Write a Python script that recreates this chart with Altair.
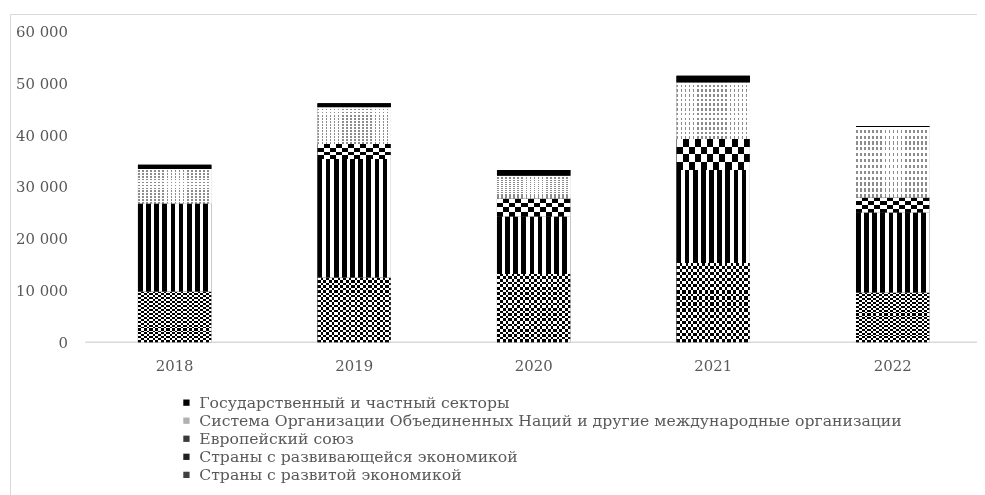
import altair as alt
import pandas as pd

years = ["2018", "2019", "2020", "2021", "2022"]
series = [
    "Страны с развитой экономикой",
    "Страны с развивающейся экономикой",
    "Европейский союз",
    "Система Организации Объединенных Наций  и другие международные организации",
    "Государственный и частный секторы",
]
developed = [9800, 12500, 13200, 15300, 9600]
developing = [17000, 22900, 11100, 18000, 15500]
eu = [0, 2900, 3500, 6000, 2900]
un = [6700, 7100, 4400, 10900, 13600]
state = [800, 800, 1100, 1300, 200]
y_ticks = [0, 10000, 20000, 30000, 40000, 50000, 60000]

values = [developed, developing, eu, un, state]
rows = []
for k, (s, vals) in enumerate(zip(series, values)):
    for y, v in zip(years, vals):
        rows.append({"year": y, "series": s, "value": v, "order": k})
df = pd.DataFrame(rows)


def stripes(n, on, off, frac, vertical=False):
    stops = []
    for i in range(n):
        a = i / n
        b = (i + frac) / n
        c = (i + 1) / n
        stops += [
            {"offset": round(a, 5), "color": on},
            {"offset": round(b, 5), "color": on},
            {"offset": round(b, 5), "color": off},
            {"offset": round(c, 5), "color": off},
        ]
    g = {"gradient": "linear", "x1": 0, "y1": 0, "x2": 1, "y2": 0, "stops": stops}
    if vertical:
        g.update({"x1": 0, "y1": 0, "x2": 0, "y2": 1})
    return g


TEXT = "#595959"
FONT = "DejaVu Serif"

base = alt.Chart(df).transform_stack(
    stack="value", groupby=["year"], sort=[alt.SortField("order", "ascending")], as_=["y0", "y1"]
)

X = alt.X(
    "year:N",
    sort=years,
    scale=alt.Scale(paddingInner=0.591, paddingOuter=0.279, align=0.525),
    axis=alt.Axis(title=None, domain=False, ticks=False, labelPadding=16, labelAngle=0,
                  labelFontSize=15, labelColor=TEXT, labelFont=FONT),
)
Y = alt.Y(
    "y0:Q",
    scale=alt.Scale(domain=[0, 60000], nice=False),
    axis=alt.Axis(title=None, values=y_ticks, grid=False, domain=False, ticks=False, tickSize=0,
                  labelPadding=18, labelFontSize=15, labelColor=TEXT, labelFont=FONT,
                  labelExpr="replace(format(datum.value, ','), regexp(',', 'g'), ' ')"),
)
Y2 = alt.Y2("y1:Q")

legend_order = list(reversed(series))
legend_colors = ["#000000", "#b0b0b0", "#3a3a3a", "#202020", "#404040"]

legend_layer = base.mark_bar().encode(
    x=X, y=Y, y2=Y2,
    color=alt.Color(
        "series:N",
        scale=alt.Scale(domain=legend_order, range=legend_colors),
        legend=alt.Legend(
            title=None, orient="none", legendX=94, legendY=366, direction="vertical",
            symbolType="square", symbolSize=40, symbolStrokeWidth=0, labelOffset=5,
            rowPadding=1.2, padding=0, labelFontSize=15.8, labelColor=TEXT, labelFont=FONT,
            labelLimit=900,
        ),
    ),
)


def seg(name, color, blend=None):
    kw = {"color": color}
    if blend:
        kw["blend"] = blend
    return base.transform_filter(alt.datum.series == name).mark_bar(**kw).encode(x=X, y=Y, y2=Y2)


layers = [
    legend_layer,
    # developed: fine checker
    seg(series[0], stripes(13, "#000000", "#ffffff", 0.6)),
    seg(series[0], stripes(13, "#ffffff", "rgba(255,255,255,0)", 0.45, vertical=True), "difference"),
    # developing: vertical stripes
    seg(series[1], stripes(9, "#000000", "#ffffff", 0.58)),
    # EU: coarse checker
    seg(series[2], stripes(6, "#000000", "#ffffff", 0.5)),
    seg(series[2], stripes(2, "#ffffff", "rgba(255,255,255,0)", 0.5, vertical=True), "difference"),
    # UN: light dots
    seg(series[3], stripes(18, "#8c8c8c", "#ffffff", 0.4)),
    seg(series[3], stripes(12, "#ffffff", "rgba(255,255,255,0)", 0.45, vertical=True)),
    # state: solid black
    seg(series[4], "#000000"),
]

one = pd.DataFrame({"a": [0]})
zero_line = alt.Chart(one).mark_rule(color="#d9d9d9", strokeWidth=1.5).encode(
    y=alt.datum(0), x=alt.value(0), x2=alt.value(899)
)
frame = alt.Chart(one).mark_rect(fill=None, stroke="#d9d9d9", strokeWidth=1).encode(
    x=alt.value(-75.5), y=alt.value(-17.5), x2=alt.value(1000), y2=alt.value(520)
)

chart = alt.layer(frame, zero_line, *layers).properties(
    width=899, height=313,
    autosize=alt.AutoSizeParams(type="none"),
    padding={"left": 78, "top": 22, "right": 0, "bottom": 152},
).configure(font=FONT, view=alt.ViewConfig(stroke=None))

chart.save("out.html", embed_options={"renderer": "svg", "actions": False})
